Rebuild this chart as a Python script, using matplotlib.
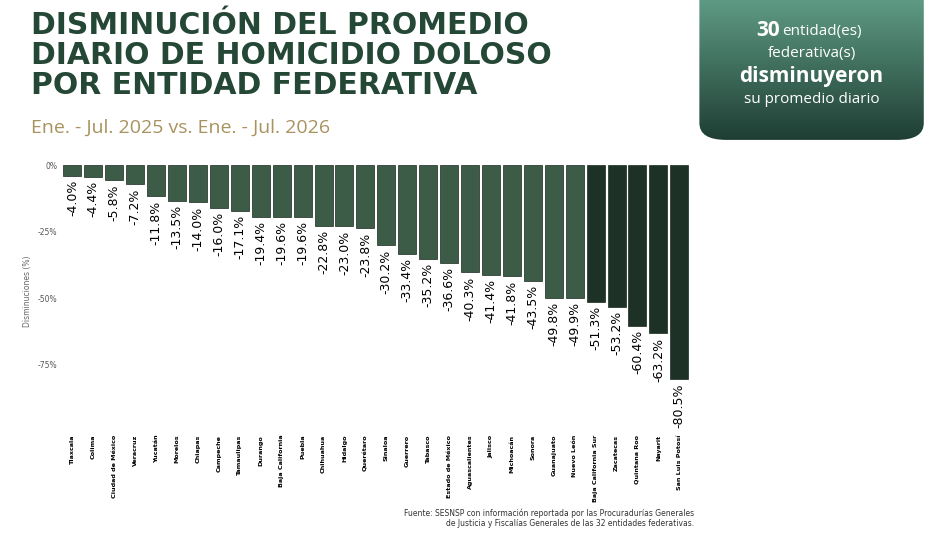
import matplotlib
matplotlib.use("Agg")
import matplotlib.pyplot as plt
import numpy as np
from matplotlib.patches import FancyBboxPatch
from matplotlib.colors import LinearSegmentedColormap

states = ["Tlaxcala","Colima","Ciudad de México","Veracruz","Yucatán","Morelos","Chiapas","Campeche",
          "Tamaulipas","Durango","Baja California","Puebla","Chihuahua","Hidalgo","Querétaro","Sinaloa",
          "Guerrero","Tabasco","Estado de México","Aguascalientes","Jalisco","Michoacán","Sonora",
          "Guanajuato","Nuevo León","Baja California Sur","Zacatecas","Quintana Roo","Nayarit","San Luis Potosí"]
values = [-4.0,-4.4,-5.8,-7.2,-11.8,-13.5,-14.0,-16.0,-17.1,-19.4,-19.6,-19.6,-22.8,-23.0,-23.8,-30.2,
          -33.4,-35.2,-36.6,-40.3,-41.4,-41.8,-43.5,-49.8,-49.9,-51.3,-53.2,-60.4,-63.2,-80.5]
yticks = [0, -25, -50, -75]

fig = plt.figure(figsize=(9.35, 5.34), dpi=100)
fig.patch.set_facecolor("white")

ax = fig.add_axes([0.064, 0.217, 0.676, 0.474])
x = np.arange(len(states))
colors = ["#3c5c48"] * 25 + ["#1d3126"] * 5
ax.bar(x, values, width=0.86, color=colors, edgecolor="#1a2a20", linewidth=0.5)
for xi, v in zip(x, values):
    ax.text(xi, v - 1.5, f"{v:.1f}%", rotation=90, ha="center", va="top", fontsize=9, color="black")
ax.set_xlim(-0.6, len(states) - 0.4)
ax.set_ylim(-95, 0)
ax.set_yticks(yticks)
ax.set_yticklabels([f"{t}%" for t in yticks], fontsize=5.5, color="#555555")
ax.set_xticks(x)
ax.set_xticklabels(states, rotation=90, fontsize=4.6, fontweight="bold", va="top")
ax.tick_params(length=0, pad=2)
ax.tick_params(axis="x", pad=12)
for s in ax.spines.values():
    s.set_visible(False)
ax.set_ylabel("Disminuciones (%)", fontsize=5.5, color="#666666")

fig.text(0.033, 0.98, "DISMINUCIÓN DEL PROMEDIO\nDIARIO DE HOMICIDIO DOLOSO\nPOR ENTIDAD FEDERATIVA",
         fontsize=21.5, fontweight="heavy", family="DejaVu Sans", color="#244736", va="top", ha="left",
         linespacing=1.05)
fig.text(0.033, 0.76, "Ene. - Jul. 2025 vs. Ene. - Jul. 2026", fontsize=14, color="#a8925e",
         va="center", ha="left", family="Open Sans")

# info box
bax = fig.add_axes([0.748, 0.738, 0.24, 0.262])
bax.set_xlim(0, 1); bax.set_ylim(0, 1); bax.axis("off")
patch = FancyBboxPatch((0.0, 0.0), 1.0, 1.3, boxstyle="round,pad=0,rounding_size=0.12",
                       transform=bax.transAxes, facecolor="none", edgecolor="none")
bax.add_patch(patch)
grad = np.linspace(0, 1, 256).reshape(-1, 1)
cmap = LinearSegmentedColormap.from_list("g", ["#5e9a84", "#1f3e33"])
im = bax.imshow(grad, extent=[0, 1, 0, 1], aspect="auto", cmap=cmap, origin="upper")
im.set_clip_path(patch)
bax.text(0.36, 0.78, "30", fontsize=15, fontweight="bold", color="white", ha="right", va="center",
         family="Open Sans")
bax.text(0.37, 0.775, "entidad(es)", fontsize=11, color="white", ha="left", va="center", family="Open Sans")
bax.text(0.5, 0.62, "federativa(s)", fontsize=11, color="white", ha="center", va="center", family="Open Sans")
bax.text(0.5, 0.45, "disminuyeron", fontsize=15, fontweight="bold", color="white", ha="center", va="center", family="Open Sans")
bax.text(0.5, 0.29, "su promedio diario", fontsize=11, color="white", ha="center", va="center", family="Open Sans")

fig.text(0.742, 0.03, "Fuente: SESNSP con información reportada por las Procuradurías Generales\nde Justicia y Fiscalías Generales de las 32 entidades federativas.",
         fontsize=5.5, ha="right", va="center", color="#333333")

fig.savefig("out.png", dpi=100, facecolor="white")
